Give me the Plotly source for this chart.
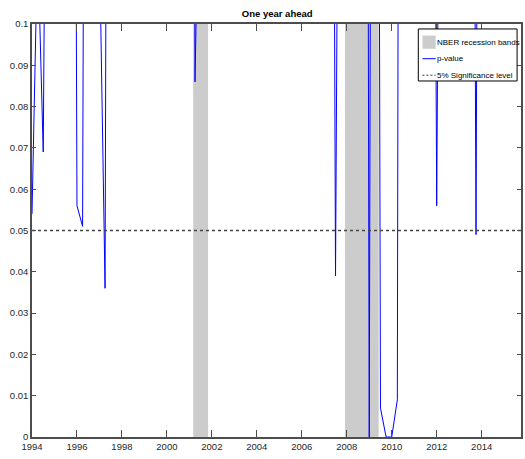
import numpy as np
import plotly.graph_objects as go

# Quarterly observations, 1994Q1 .. 2015Q4
years = list(range(1994, 2016))
pvalue = [
    0.054, 0.120, 0.069, 0.412,   # 1994
    0.538, 0.647, 0.362, 0.450,   # 1995
    0.056, 0.051, 0.480, 0.330,   # 1996
    0.120, 0.036, 0.520, 0.610,   # 1997
    0.730, 0.680, 0.550, 0.490,   # 1998
    0.620, 0.710, 0.800, 0.760,   # 1999
    0.690, 0.580, 0.440, 0.370,   # 2000
    0.520, 0.086, 0.470, 0.630,   # 2001
    0.710, 0.780, 0.820, 0.750,   # 2002
    0.690, 0.730, 0.810, 0.860,   # 2003
    0.790, 0.720, 0.660, 0.740,   # 2004
    0.830, 0.770, 0.700, 0.640,   # 2005
    0.580, 0.510, 0.430, 0.390,   # 2006
    0.340, 0.410, 0.039, 0.460,   # 2007
    0.520, 0.380, 0.290, 0.610,   # 2008
    0.000, 0.550, 0.007, 0.000,   # 2009
    0.000, 0.009, 0.740, 0.570,   # 2010
    0.680, 0.740, 0.620, 0.350,   # 2011
    0.056, 0.410, 0.630, 0.720,   # 2012
    0.660, 0.540, 0.370, 0.049,   # 2013
    0.430, 0.580, 0.660, 0.710,   # 2014
    0.770, 0.690, 0.620, 0.580,   # 2015
]
quarters = [y + q / 4 for y in years for q in range(4)]

# NBER recession periods (start, end) in fractional years
recessions = [(2001.17, 2001.83), (2007.92, 2009.42)]
significance = 0.05

x_ticks = list(range(1994, 2016, 2))
y_ticks = [0, 0.01, 0.02, 0.03, 0.04, 0.05, 0.06, 0.07, 0.08, 0.09, 0.1]
y_labels = ["0", "0.01", "0.02", "0.03", "0.04", "0.05", "0.06", "0.07", "0.08", "0.09", "0.1"]

FONT = "Liberation Sans, Arial, sans-serif"
AXIS = "#4d4d4d"
BAND = "#cccccc"

fig = go.Figure()

fig.add_trace(go.Scatter(
    x=quarters, y=pvalue, mode="lines",
    line=dict(color="#0000ff", width=1), showlegend=False, hoverinfo="skip",
))
fig.add_trace(go.Scatter(
    x=[quarters[0], quarters[-1]], y=[significance, significance], mode="lines",
    line=dict(color="#444444", width=1.5, dash="3px,3px"), showlegend=False, hoverinfo="skip",
))

shapes = []
for start, end in recessions:
    shapes.append(dict(type="rect", xref="x", yref="paper", x0=start, x1=end, y0=0, y1=1,
                       fillcolor=BAND, line=dict(width=0), layer="below"))

# Legend box drawn in paper coordinates
L = dict(x0=0.790, x1=0.992, y0=0.862, y1=0.988)
shapes.append(dict(type="rect", xref="paper", yref="paper", **L,
                   fillcolor="white", line=dict(color="black", width=1), layer="above"))
rows = [0.956, 0.916, 0.876]
sx0, sx1 = 0.7985, 0.8255
shapes.append(dict(type="rect", xref="paper", yref="paper", x0=sx0, x1=sx1,
                   y0=rows[0] - 0.016, y1=rows[0] + 0.016,
                   fillcolor=BAND, line=dict(width=0), layer="above"))
shapes.append(dict(type="line", xref="paper", yref="paper", x0=sx0, x1=sx1,
                   y0=rows[1], y1=rows[1], line=dict(color="#0000ff", width=1), layer="above"))
shapes.append(dict(type="line", xref="paper", yref="paper", x0=sx0, x1=sx1,
                   y0=rows[2], y1=rows[2], line=dict(color="#333333", width=1, dash="2px,2px"),
                   layer="above"))

legend_text = ["NBER recession bands", "p-value", "5% Significance level"]
annotations = [
    dict(xref="paper", yref="paper", x=0.826, y=r, text=t, showarrow=False,
         xanchor="left", yanchor="middle", borderpad=0,
         font=dict(family=FONT, size=8, color="black"))
    for r, t in zip(rows, legend_text)
]

fig.update_layout(
    width=525, height=459, autosize=False,
    margin=dict(l=32, r=2, t=24, b=22),
    paper_bgcolor="white", plot_bgcolor="white",
    font=dict(family=FONT, size=9.5, color="#262626"),
    title=dict(text="<b>One year ahead</b>", x=0.528, xanchor="center", y=0.971, yanchor="middle",
               font=dict(family=FONT, size=9.5, color="black")),
    shapes=shapes, annotations=annotations, showlegend=False,
)
fig.update_xaxes(
    range=[quarters[0], quarters[-1]], tickvals=x_ticks, ticktext=[str(v) for v in x_ticks],
    ticks="inside", ticklen=7, tickcolor=AXIS, tickwidth=1,
    showline=True, linecolor=AXIS, linewidth=1.5, mirror="ticks",
    showgrid=False, zeroline=False,
)
fig.update_yaxes(
    range=[0, 0.1], tickvals=y_ticks, ticktext=y_labels,
    ticks="inside", ticklen=4, tickcolor=AXIS, tickwidth=1,
    showline=True, linecolor=AXIS, linewidth=1.5, mirror="ticks",
    showgrid=False, zeroline=False,
)

fig.write_html("out.html")
